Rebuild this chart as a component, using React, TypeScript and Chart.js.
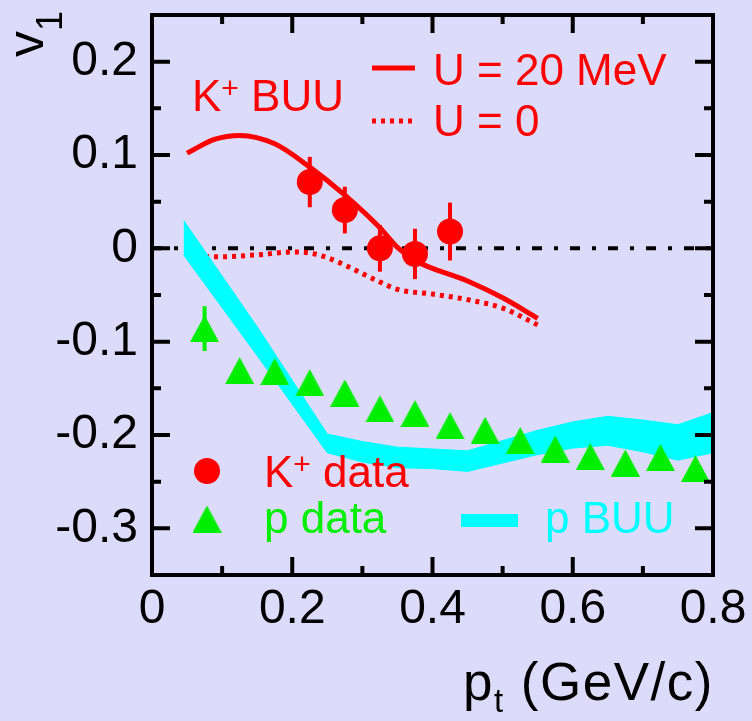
import React, { useEffect, useRef } from 'react';
import { Chart, registerables } from 'chart.js';

Chart.register(...registerables);

// Axis ticks
const xTicks = [0, 0.2, 0.4, 0.6, 0.8];
const xTickLabels = ['0', '0.2', '0.4', '0.6', '0.8'];
const xMinorTicks = [0.1, 0.3, 0.5, 0.7];
const yTicks = [-0.3, -0.2, -0.1, 0, 0.1, 0.2];
const yTickLabels = ['-0.3', '-0.2', '-0.1', '0', '0.1', '0.2'];
const yMinorTicks = [-0.35, -0.25, -0.15, -0.05, 0.05, 0.15, 0.25];

// K+ BUU, U = 20 MeV
const kBuuU20X = [0.05, 0.09, 0.125, 0.175, 0.225, 0.275, 0.325, 0.35, 0.375, 0.45, 0.5, 0.55];
const kBuuU20Y = [0.102, 0.117, 0.121, 0.112, 0.087, 0.057, 0.022, 0.001, -0.013, -0.035, -0.053, -0.075];

// K+ BUU, U = 0
const kBuuU0X = [0.05, 0.1, 0.15, 0.2, 0.225, 0.25, 0.275, 0.3, 0.325, 0.35, 0.4, 0.45, 0.5, 0.55];
const kBuuU0Y = [-0.008, -0.009, -0.007, -0.004, -0.005, -0.01, -0.018, -0.027, -0.036, -0.044, -0.049, -0.055, -0.064, -0.082];

// K+ data
const kDataX = [0.225, 0.275, 0.325, 0.375, 0.425];
const kDataY = [0.071, 0.041, 0.0, -0.006, 0.018];
const kDataErr = [0.027, 0.025, 0.025, 0.027, 0.031];

// proton data
const pDataX = [0.075, 0.125, 0.175, 0.225, 0.275, 0.325, 0.375, 0.425, 0.475, 0.525, 0.575, 0.625, 0.675, 0.725, 0.775];
const pDataY = [-0.086, -0.131, -0.132, -0.144, -0.155, -0.172, -0.177, -0.19, -0.195, -0.206, -0.215, -0.223, -0.23, -0.224, -0.236];
const pDataErr = [0.024, 0.01, 0.01, 0.01, 0.01, 0.01, 0.01, 0.01, 0.01, 0.01, 0.01, 0.01, 0.01, 0.01, 0.01];

// proton BUU band (upper / lower edge)
const pBuuX = [0.045, 0.15, 0.25, 0.3, 0.35, 0.4, 0.45, 0.5, 0.55, 0.6, 0.65, 0.7, 0.75, 0.8];
const pBuuUpper = [0.03, -0.084, -0.199, -0.207, -0.213, -0.215, -0.217, -0.206, -0.195, -0.186, -0.18, -0.184, -0.189, -0.176];
const pBuuLower = [-0.007, -0.115, -0.219, -0.229, -0.235, -0.236, -0.239, -0.23, -0.221, -0.214, -0.211, -0.218, -0.227, -0.219];

// zero reference line
const zeroLineX = [0, 0.8];
const zeroLineY = [0, 0];

const BG = '#dcdcfa';
const RED = '#ff0000';
const GREEN = '#00ee00';
const CYAN = '#00ffff';
const FAMILY = '"Liberation Sans", Arial, Helvetica, sans-serif';
const font = (s: number) => `${s}px ${FAMILY}`;

const pts = (xs: number[], ys: number[]) => xs.map((x, i) => ({ x, y: ys[i] }));

function makeTriangle(w: number, h: number, color: string) {
  const c = document.createElement('canvas');
  c.width = w;
  c.height = h;
  const g = c.getContext('2d')!;
  g.fillStyle = color;
  g.beginPath();
  g.moveTo(w / 2, 0);
  g.lineTo(w, h);
  g.lineTo(0, h);
  g.closePath();
  g.fill();
  return c;
}

function runText(
  ctx: CanvasRenderingContext2D,
  x: number,
  y: number,
  pieces: [string, number, number][],
  spacing = 0,
) {
  let cx = x;
  (ctx as any).letterSpacing = `${spacing}px`;
  for (const [t, s, dy] of pieces) {
    ctx.font = font(s);
    ctx.fillText(t, cx, y + dy);
    cx += ctx.measureText(t).width;
  }
  (ctx as any).letterSpacing = '0px';
  return cx;
}

export default function App() {
  const ref = useRef<HTMLCanvasElement | null>(null);

  useEffect(() => {
    document.body.style.margin = '0';
    document.body.style.background = BG;
    const canvas = ref.current!;
    const tri = makeTriangle(29, 27, GREEN);

    const errorBars = {
      id: 'errorBars',
      beforeDatasetDraw(chart: any, args: any) {
        const ds = chart.data.datasets[args.index];
        if (!ds.errors) return;
        const { ctx, scales } = chart;
        ctx.save();
        ctx.strokeStyle = ds.errColor;
        ctx.lineWidth = 4;
        ds.data.forEach((p: any, i: number) => {
          const e = ds.errors[i];
          const x = scales.x.getPixelForValue(p.x);
          ctx.beginPath();
          ctx.moveTo(x, scales.y.getPixelForValue(p.y - e));
          ctx.lineTo(x, scales.y.getPixelForValue(p.y + e));
          ctx.stroke();
        });
        ctx.restore();
      },
    };

    const background = {
      id: 'bg',
      beforeDraw(chart: any) {
        const { ctx, width, height } = chart;
        ctx.save();
        ctx.fillStyle = BG;
        ctx.fillRect(0, 0, width, height);
        ctx.restore();
      },
    };

    const frameAndText = {
      id: 'frameAndText',
      afterDraw(chart: any) {
        const { ctx, chartArea: a, scales } = chart;
        ctx.save();
        // frame
        ctx.strokeStyle = '#000';
        ctx.lineWidth = 4;
        ctx.strokeRect(a.left, a.top, a.right - a.left, a.bottom - a.top);
        // inward tick marks on all four sides
        const tickX = (v: number, len: number) => {
          const x = scales.x.getPixelForValue(v);
          ctx.beginPath();
          ctx.moveTo(x, a.bottom);
          ctx.lineTo(x, a.bottom - len);
          ctx.moveTo(x, a.top);
          ctx.lineTo(x, a.top + len);
          ctx.stroke();
        };
        const tickY = (v: number, len: number) => {
          const y = scales.y.getPixelForValue(v);
          ctx.beginPath();
          ctx.moveTo(a.left, y);
          ctx.lineTo(a.left + len, y);
          ctx.moveTo(a.right, y);
          ctx.lineTo(a.right - len, y);
          ctx.stroke();
        };
        xTicks.forEach((v) => tickX(v, 18));
        xMinorTicks.forEach((v) => tickX(v, 9));
        yTicks.forEach((v) => tickY(v, 18));
        yMinorTicks.forEach((v) => tickY(v, 9));

        ctx.textAlign = 'left';
        ctx.textBaseline = 'alphabetic';

        // axis titles
        ctx.fillStyle = '#000';
        runText(ctx, 463, 700, [['p', 53, 0], ['t', 33, 12], [' (GeV/c)', 53, 0]], 1.5);
        ctx.save();
        ctx.translate(43, 57);
        ctx.rotate(-Math.PI / 2);
        runText(ctx, 0, 0, [['v', 52, 0], ['1', 36, 19]]);
        ctx.restore();

        // K+ BUU legend
        ctx.fillStyle = RED;
        runText(ctx, 192, 111, [['K', 44, 0], ['+', 30, -13], [' BUU', 44, 0]]);
        runText(ctx, 433, 85, [['U = 20 MeV', 44, 0]]);
        runText(ctx, 433, 136, [['U = 0', 44, 0]]);
        ctx.strokeStyle = RED;
        ctx.lineWidth = 5;
        ctx.beginPath();
        ctx.moveTo(372, 68);
        ctx.lineTo(415, 68);
        ctx.stroke();
        ctx.setLineDash([4, 5]);
        ctx.beginPath();
        ctx.moveTo(372, 121);
        ctx.lineTo(415, 121);
        ctx.stroke();
        ctx.setLineDash([]);

        // data legend
        ctx.beginPath();
        ctx.arc(207, 471, 13, 0, Math.PI * 2);
        ctx.fill();
        runText(ctx, 264, 487, [['K', 44, 0], ['+', 30, -13], [' data', 44, 0]]);
        ctx.drawImage(tri, 207 - 14.5, 519 - 13.5);
        ctx.fillStyle = GREEN;
        runText(ctx, 264, 533, [['p data', 44, 0]]);
        ctx.fillStyle = CYAN;
        ctx.fillRect(461, 514, 57, 13);
        runText(ctx, 545, 533, [['p BUU', 44, 0]]);
        ctx.restore();
      },
    };

    const chart = new Chart(canvas, {
      type: 'scatter',
      data: {
        datasets: [
          {
            label: 'p data',
            data: pts(pDataX, pDataY),
            pointStyle: tri,
            pointRadius: 14,
            backgroundColor: GREEN,
            borderColor: GREEN,
            errors: pDataErr,
            errColor: GREEN,
          } as any,
          {
            label: 'K+ data',
            data: pts(kDataX, kDataY),
            pointStyle: 'circle',
            pointRadius: 13,
            borderWidth: 0,
            backgroundColor: RED,
            borderColor: RED,
            errors: kDataErr,
            errColor: RED,
          } as any,
          {
            label: 'p BUU',
            data: pts(pBuuX, pBuuUpper),
            showLine: true,
            pointRadius: 0,
            borderWidth: 1,
            borderColor: CYAN,
            backgroundColor: CYAN,
            tension: 0,
            fill: '+1',
          },
          {
            label: 'p BUU lower',
            data: pts(pBuuX, pBuuLower),
            showLine: true,
            pointRadius: 0,
            borderWidth: 1,
            borderColor: CYAN,
            tension: 0,
            fill: false,
          },
          {
            label: 'U = 20 MeV',
            data: pts(kBuuU20X, kBuuU20Y),
            showLine: true,
            pointRadius: 0,
            borderWidth: 5,
            borderColor: RED,
            cubicInterpolationMode: 'monotone',
            fill: false,
          },
          {
            label: 'U = 0',
            data: pts(kBuuU0X, kBuuU0Y),
            showLine: true,
            pointRadius: 0,
            borderWidth: 5,
            borderColor: RED,
            borderDash: [4, 5],
            cubicInterpolationMode: 'monotone',
            fill: false,
          },
          {
            label: 'zero',
            data: pts(zeroLineX, zeroLineY),
            showLine: true,
            pointRadius: 0,
            borderWidth: 4,
            borderColor: '#000',
            borderDash: [10, 12, 4, 12],
            fill: false,
          },
        ],
      },
      options: {
        responsive: false,
        animation: false,
        devicePixelRatio: 1,
        layout: { padding: { left: 0, right: 39, top: 8, bottom: 0 } },
        plugins: { legend: { display: false }, tooltip: { enabled: false } },
        events: [],
        scales: {
          x: {
            type: 'linear',
            min: 0,
            max: 0.8,
            grid: { display: false, drawTicks: false },
            border: { display: false },
            afterBuildTicks: (s: any) => {
              s.ticks = xTicks.map((v) => ({ value: v }));
            },
            afterFit: (s: any) => {
              s.height = 146;
              s.paddingLeft = 0;
              s.paddingRight = 0;
            },
            ticks: {
              autoSkip: false,
              maxRotation: 0,
              padding: 6,
              color: '#000',
              font: { family: FAMILY, size: 48 },
              callback: (_v: any, i: number) => xTickLabels[i],
            },
          },
          y: {
            type: 'linear',
            min: -0.35,
            max: 0.25,
            grid: { display: false, drawTicks: false },
            border: { display: false },
            afterBuildTicks: (s: any) => {
              s.ticks = yTicks.map((v) => ({ value: v }));
            },
            afterFit: (s: any) => {
              s.width = 152;
              s.paddingTop = 0;
              s.paddingBottom = 0;
            },
            ticks: {
              autoSkip: false,
              padding: 14,
              color: '#000',
              font: { family: FAMILY, size: 48 },
              callback: (_v: any, i: number) => yTickLabels[i],
            },
          },
        },
      },
      plugins: [background, errorBars, frameAndText],
    });

    return () => chart.destroy();
  }, []);

  return (
    <div style={{ width: 752, height: 721 }}>
      <canvas ref={ref} width={752} height={721} style={{ display: 'block' }} />
    </div>
  );
}
